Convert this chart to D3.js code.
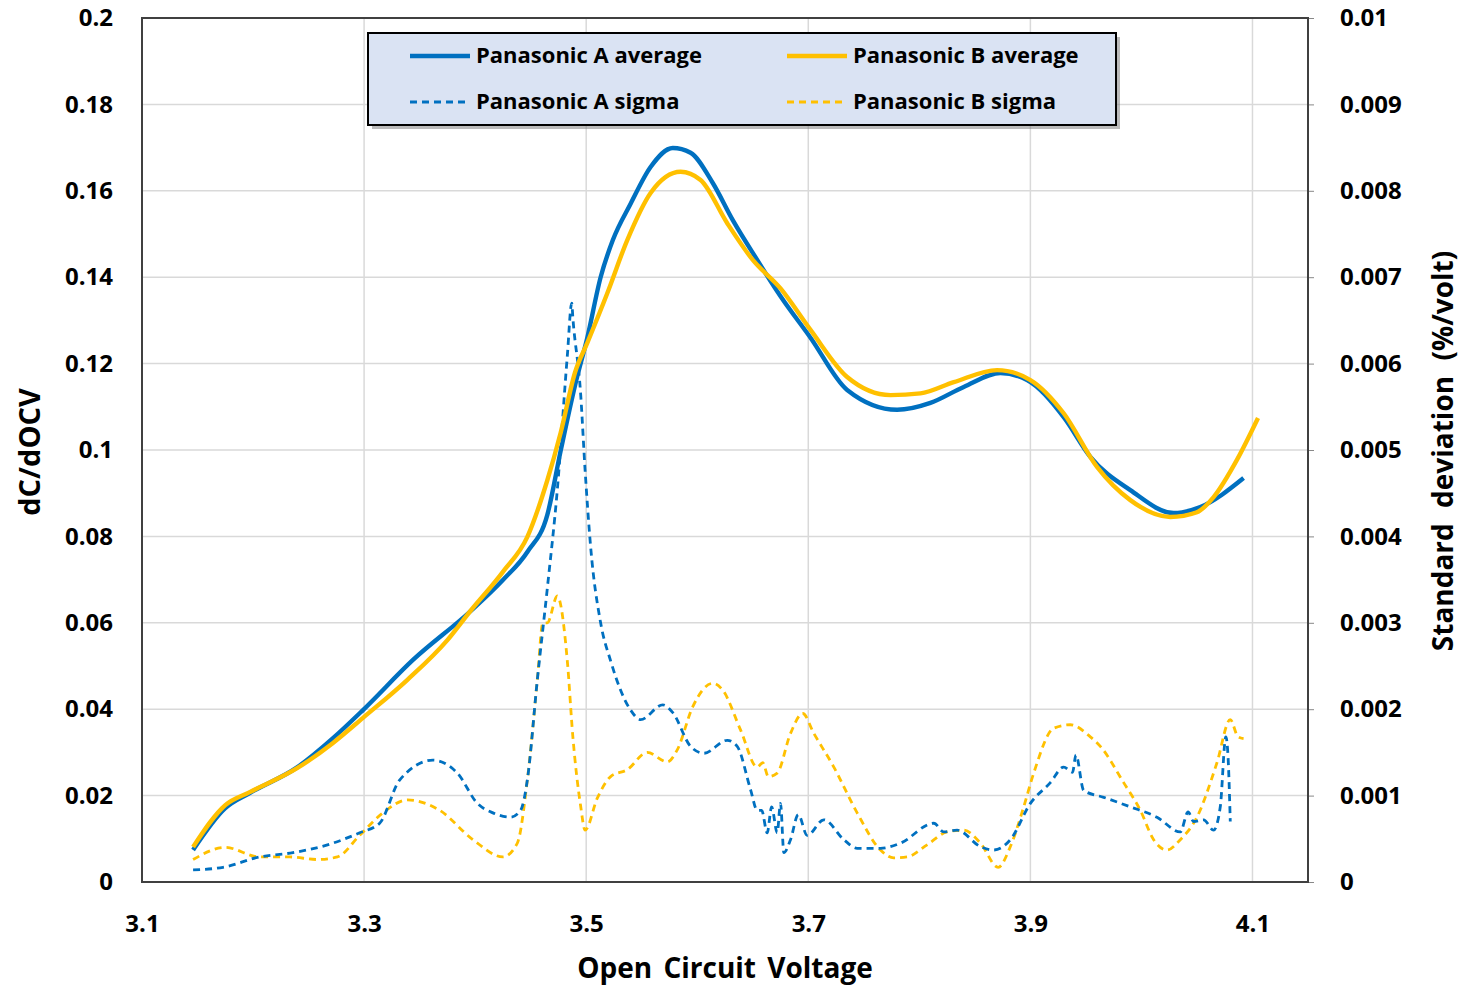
<!DOCTYPE html>
<html><head><meta charset="utf-8">
<script src="https://cdn.jsdelivr.net/npm/d3@7"></script>
<style>
body{margin:0;background:#fff;}
text{font-family:"Open Sans",Lato,sans-serif;font-weight:bold;fill:#000;}
</style></head>
<body><svg id="c" width="1462" height="986"></svg>
<script>
// ---- data ----
const avgA_v = [3.146,3.175,3.197,3.240,3.272,3.299,3.344,3.395,3.425,3.447,3.465,3.477,3.490,3.501,3.513,3.524,3.540,3.558,3.578,3.594,3.614,3.632,3.654,3.675,3.702,3.735,3.780,3.810,3.840,3.873,3.897,3.930,3.954,3.990,4.029,4.053,4.092];
const avgA   = [0.0074,0.0171,0.0206,0.0266,0.0333,0.0398,0.0514,0.0625,0.0699,0.0764,0.0850,0.0998,0.115,0.126,0.140,0.1486,0.157,0.1655,0.1699,0.1688,0.1618,0.1532,0.144,0.1356,0.126,0.1139,0.1093,0.1109,0.1146,0.1178,0.1162,0.1076,0.0984,0.0907,0.0854,0.0868,0.0935];
const avgB_v = [3.146,3.175,3.197,3.240,3.272,3.299,3.339,3.375,3.395,3.425,3.447,3.465,3.477,3.490,3.501,3.519,3.537,3.558,3.585,3.603,3.627,3.650,3.675,3.702,3.735,3.774,3.801,3.831,3.870,3.900,3.930,3.960,3.990,4.026,4.050,4.065,4.086,4.105];
const avgB   = [0.0081,0.0178,0.0208,0.0264,0.0322,0.038,0.0468,0.056,0.0625,0.0718,0.0799,0.093,0.104,0.118,0.1248,0.1363,0.1486,0.1595,0.1644,0.1625,0.1525,0.144,0.1374,0.1278,0.1169,0.1127,0.1131,0.1157,0.1185,0.1162,0.1085,0.0961,0.0884,0.0845,0.0856,0.0891,0.0977,0.1074];
const sigA_v = [3.146,3.173,3.206,3.236,3.267,3.296,3.314,3.332,3.362,3.384,3.402,3.416,3.432,3.441,3.447,3.456,3.465,3.474,3.483,3.487,3.488,3.495,3.499,3.504,3.513,3.522,3.540,3.549,3.569,3.578,3.594,3.606,3.627,3.636,3.648,3.654,3.658,3.663,3.667,3.672,3.675,3.678,3.684,3.691,3.699,3.714,3.732,3.744,3.765,3.783,3.813,3.822,3.834,3.855,3.867,3.882,3.900,3.918,3.930,3.938,3.941,3.948,3.966,3.990,4.014,4.035,4.042,4.047,4.056,4.065,4.071,4.076,4.078,4.080];
const sigA   = [0.00014,0.00017,0.00029,0.00034,0.00043,0.00057,0.00068,0.00118,0.00141,0.00126,0.00091,0.0008,0.00075,0.00083,0.00118,0.00234,0.0034,0.00454,0.00609,0.0067,0.00653,0.00565,0.00477,0.00388,0.003,0.00256,0.00199,0.00188,0.00205,0.00196,0.00157,0.00149,0.00164,0.00157,0.00107,0.00083,0.00083,0.00057,0.00087,0.00057,0.00091,0.00034,0.00049,0.00078,0.00054,0.00072,0.00049,0.00039,0.00039,0.00045,0.00068,0.00058,0.0006,0.00041,0.00037,0.00049,0.00091,0.00115,0.00133,0.00127,0.00147,0.00106,0.00098,0.00087,0.00075,0.00058,0.00081,0.0007,0.00072,0.0006,0.00087,0.00168,0.00145,0.0007];
const sigB_v = [3.146,3.175,3.206,3.233,3.258,3.276,3.296,3.317,3.339,3.368,3.398,3.425,3.438,3.447,3.456,3.461,3.465,3.474,3.483,3.488,3.495,3.499,3.510,3.522,3.537,3.555,3.573,3.582,3.596,3.614,3.623,3.639,3.654,3.659,3.664,3.672,3.684,3.695,3.705,3.723,3.744,3.765,3.777,3.789,3.807,3.825,3.840,3.855,3.871,3.882,3.894,3.903,3.921,3.936,3.954,3.963,3.984,3.999,4.011,4.023,4.035,4.050,4.068,4.080,4.087,4.092];
const sigB   = [0.00026,0.0004,0.00029,0.00029,0.00026,0.00029,0.00054,0.0008,0.00095,0.00083,0.00049,0.00029,0.00045,0.00118,0.00234,0.003,0.003,0.00331,0.00256,0.00168,0.00088,0.0006,0.00097,0.00122,0.0013,0.0015,0.00139,0.00153,0.00203,0.0023,0.00222,0.00176,0.00133,0.00138,0.00122,0.00126,0.00172,0.00195,0.00172,0.00133,0.0008,0.00037,0.00028,0.00029,0.00043,0.00058,0.0006,0.00045,0.00017,0.00041,0.00087,0.00126,0.00178,0.00182,0.00168,0.00157,0.00115,0.00083,0.00049,0.00037,0.00049,0.00075,0.00138,0.00188,0.00168,0.00166];
const xTicks = [3.1,3.3,3.5,3.7,3.9,4.1];
const xTickLabels = ["3.1","3.3","3.5","3.7","3.9","4.1"];
const yTicks = [0,0.02,0.04,0.06,0.08,0.1,0.12,0.14,0.16,0.18,0.2];
const yTickLabels = ["0","0.02","0.04","0.06","0.08","0.1","0.12","0.14","0.16","0.18","0.2"];
const y2Ticks = [0,0.001,0.002,0.003,0.004,0.005,0.006,0.007,0.008,0.009,0.01];
const y2TickLabels = ["0","0.001","0.002","0.003","0.004","0.005","0.006","0.007","0.008","0.009","0.01"];
const seriesNames = ["Panasonic A average","Panasonic B average","Panasonic A sigma","Panasonic B sigma"];
const blue = "#0070c0", gold = "#ffc000";

// ---- layout ----
const L=142, T=18, R=1308, B=882;
const svg = d3.select("#c");
const x = d3.scaleLinear().domain([3.1,4.15]).range([L,R]);
const y = d3.scaleLinear().domain([0,0.2]).range([B,T]);
const y2 = d3.scaleLinear().domain([0,0.01]).range([B,T]);

// grid
const grid = svg.append("g");
grid.selectAll("line.h").data(yTicks.slice(1)).join("line")
  .attr("x1",L).attr("x2",R).attr("y1",d=>y(d)).attr("y2",d=>y(d))
  .attr("stroke","#d9d9d9").attr("stroke-width",1.5);
grid.selectAll("line.v").data(xTicks.slice(1)).join("line")
  .attr("y1",T).attr("y2",B).attr("x1",d=>x(d)).attr("x2",d=>x(d))
  .attr("stroke","#d9d9d9").attr("stroke-width",1.5);

// axes
const xAxis = d3.axisBottom(x).tickValues(xTicks).tickFormat((d,i)=>xTickLabels[i]).tickSize(0).tickPadding(28);
const gx = svg.append("g").attr("transform",`translate(0,${B})`).call(xAxis);
const yAxis = d3.axisLeft(y).tickValues(yTicks).tickFormat((d,i)=>yTickLabels[i]).tickSize(0).tickPadding(29);
const gy = svg.append("g").attr("transform",`translate(${L},0)`).call(yAxis);
const y2Axis = d3.axisRight(y2).tickValues(y2Ticks).tickFormat((d,i)=>y2TickLabels[i]).tickSize(6).tickPadding(26);
const gy2 = svg.append("g").attr("transform",`translate(${R},0)`).call(y2Axis);
[gx,gy,gy2].forEach(g=>{
  g.select(".domain").remove();
  g.selectAll("text").style("font-size","24px").style("font-family","'Open Sans', sans-serif").style("font-weight","bold").attr("fill","#000");
  g.selectAll("line").attr("stroke","#888");
});
gx.selectAll("text").attr("dy","0.9em");

// frame
svg.append("rect").attr("x",L).attr("y",T).attr("width",R-L).attr("height",B-T)
  .attr("fill","none").attr("stroke","#404040").attr("stroke-width",2);

// lines
svg.append("clipPath").attr("id","clip").append("rect").attr("x",L).attr("y",T).attr("width",R-L).attr("height",B-T);
const plot = svg.append("g").attr("clip-path","url(#clip)");
const line1 = d3.line().x(d=>x(d[0])).y(d=>y(d[1])).curve(d3.curveMonotoneX);
const line2 = d3.line().x(d=>x(d[0])).y(d=>y2(d[1])).curve(d3.curveMonotoneX);
const z = (a,b)=>a.map((v,i)=>[v,b[i]]);
plot.append("path").datum(z(sigB_v,sigB)).attr("d",line2).attr("fill","none").attr("stroke",gold).attr("stroke-width",2.8).attr("stroke-dasharray","7,5");
plot.append("path").datum(z(sigA_v,sigA)).attr("d",line2).attr("fill","none").attr("stroke",blue).attr("stroke-width",2.8).attr("stroke-dasharray","7,5");
plot.append("path").datum(z(avgA_v,avgA)).attr("d",line1).attr("fill","none").attr("stroke",blue).attr("stroke-width",4.4).attr("stroke-linejoin","round");
plot.append("path").datum(z(avgB_v,avgB)).attr("d",line1).attr("fill","none").attr("stroke",gold).attr("stroke-width",4.4).attr("stroke-linejoin","round");

// axis titles
svg.append("text").attr("x",725).attr("y",978).attr("text-anchor","middle").style("font-size","28px").style("word-spacing","4px").text("Open Circuit Voltage");
svg.append("text").attr("transform","translate(40,452) rotate(-90)").attr("text-anchor","middle").style("font-size","29px").text("dC/dOCV");
svg.append("text").attr("transform","translate(1453,451) rotate(-90)").attr("text-anchor","middle").style("font-size","28px").style("word-spacing","8px").text("Standard deviation (%/volt)");

// legend
const lg = svg.append("g");
lg.append("rect").attr("x",372).attr("y",37).attr("width",748).attr("height",92).attr("fill","#777").attr("opacity",0.5);
lg.append("rect").attr("x",368).attr("y",33).attr("width",748).attr("height",92).attr("fill","#dae3f3").attr("stroke","#000").attr("stroke-width",2);
const leg = [
  {n:seriesNames[0],c:blue,dash:null,w:4.4,x:410,y:56},
  {n:seriesNames[1],c:gold,dash:null,w:4.4,x:787,y:56},
  {n:seriesNames[2],c:blue,dash:"7,5",w:2.8,x:410,y:102},
  {n:seriesNames[3],c:gold,dash:"7,5",w:2.8,x:787,y:102}];
leg.forEach(d=>{
  lg.append("line").attr("x1",d.x).attr("x2",d.x+60).attr("y1",d.y).attr("y2",d.y)
    .attr("stroke",d.c).attr("stroke-width",d.w).attr("stroke-dasharray",d.dash);
  lg.append("text").attr("x",d.x+66).attr("y",d.y+7).style("font-size","22px").text(d.n);
});
</script></body></html>
